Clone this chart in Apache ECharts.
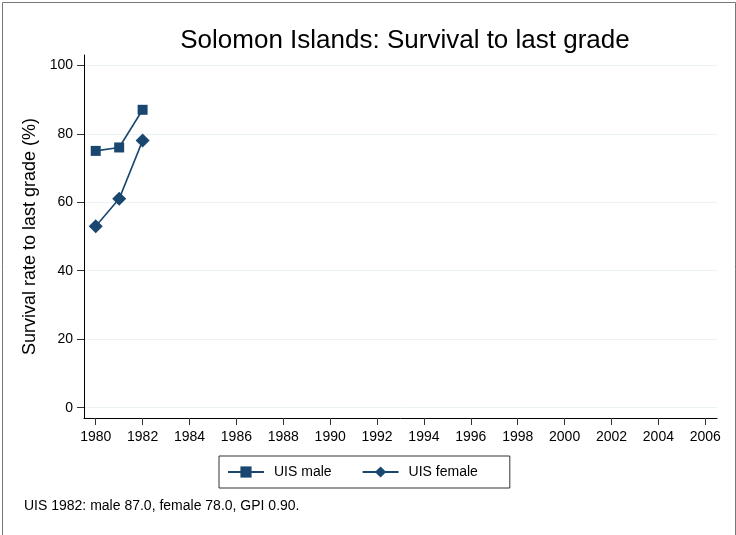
<!DOCTYPE html>
<html><head><meta charset="utf-8">
<script src="https://cdn.jsdelivr.net/npm/echarts@6/dist/echarts.min.js"></script>
<style>html,body{margin:0;padding:0;background:#fff}#c{width:736px;height:535px}</style>
</head><body><div id="c"></div>
<script>
const years = [1980, 1981, 1982];
const maleValues = [75, 76, 87];
const femaleValues = [53, 61, 78];
const xTicks = [1980,1982,1984,1986,1988,1990,1992,1994,1996,1998,2000,2002,2004,2006];
const yTicks = [0,20,40,60,80,100];
const titleText = 'Solomon Islands: Survival to last grade';
const yTitle = 'Survival rate to last grade (%)';
const noteText = 'UIS 1982: male 87.0, female 78.0, GPI 0.90.';
const navy = '#1a476f';
const font = 'Liberation Sans, Arial, sans-serif';

const chart = echarts.init(document.getElementById('c'));
chart.setOption({
  animation: false,
  backgroundColor: '#fff',
  textStyle: {fontFamily: font},
  title: {text: titleText, left: 400, top: 23, textAlign: 'center',
    textStyle: {fontFamily: font, fontWeight: 'normal', fontSize: 26, color: '#000'}},
  grid: {left: 84, right: 19, top: 55, bottom: 117, containLabel: false},
  xAxis: {type: 'value', min: 1979.5, max: 2006.5,
    axisLine: {show: true, onZero: false, lineStyle: {color: '#000', width: 1}},
    axisTick: {show: true, length: 7, lineStyle: {color: '#333'}, customValues: xTicks},
    axisLabel: {customValues: xTicks, color: '#000', fontSize: 14, margin: 12, fontFamily: font,
      formatter: v => String(v)},
    splitLine: {show: false}},
  yAxis: {type: 'value', min: -3, max: 103,
    name: yTitle, nameLocation: 'middle', nameGap: 45,
    nameTextStyle: {fontSize: 18, color: '#000', fontFamily: font},
    axisLine: {show: true, onZero: false, lineStyle: {color: '#000', width: 1}},
    axisTick: {show: true, length: 7, lineStyle: {color: '#333'}, customValues: yTicks},
    axisLabel: {customValues: yTicks, color: '#000', fontSize: 14, margin: 11, fontFamily: font},
    splitLine: {show: true, lineStyle: {color: '#eaf2f3', width: 1}}},
  legend: {left: 219, top: 456,
    borderColor: '#333', borderWidth: 1, padding: [9, 32, 9, 8],
    itemGap: 30, itemWidth: 36, itemHeight: 14,
    textStyle: {fontSize: 14, color: '#000', fontFamily: font, padding: [0, 0, 0, 5]},
    data: ['UIS male', 'UIS female']},
  series: [
    {name: 'UIS male', type: 'line', data: years.map((y, i) => [y, maleValues[i]]),
      symbol: 'rect', symbolSize: 10, lineStyle: {color: navy, width: 1.6},
      itemStyle: {color: navy}},
    {name: 'UIS female', type: 'line', data: years.map((y, i) => [y, femaleValues[i]]),
      symbol: 'diamond', symbolSize: 14, lineStyle: {color: navy, width: 1.6},
      itemStyle: {color: navy}}
  ],
  graphic: [
    {type: 'rect', left: 0, top: 0, shape: {x: 1.5, y: 1.5, width: 733, height: 540},
      style: {fill: 'none', stroke: '#777', lineWidth: 1}, silent: true},
    {type: 'text', left: 24, top: 499, style: {text: noteText, font: '14px ' + font, fill: '#000'}}
  ]
});
</script></body></html>
